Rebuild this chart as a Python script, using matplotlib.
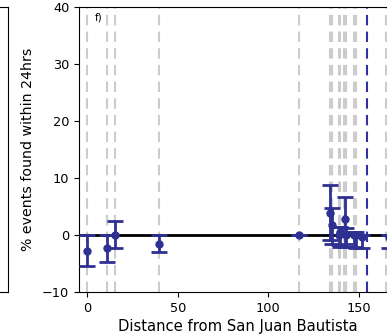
import matplotlib

matplotlib.use("Agg")
import matplotlib.pyplot as plt
import numpy as np

# event distances (km) and % found within 24 hrs, with asymmetric error bounds
dist = [0, 11, 15, 39.5, 117, 134.2, 135.3, 139, 140, 142.5, 143, 147.5, 148.6, 152, 166.8]
pct = [-2.8, -2.3, 0.0, -1.6, 0.0, 3.8, 1.7, 0.0, 0.5, 2.9, 0.0, 0.0, 0.0, -0.3, -0.3]
pct_lo = [-5.4, -4.8, -2.3, -3.0, 0.0, -0.8, -1.5, -1.8, -2.0, -1.5, -2.0, -2.0, -2.2, -2.2, -2.3]
pct_hi = [0.0, 0.0, 2.5, 0.0, 0.0, 8.8, 4.8, 1.5, 1.5, 6.7, 1.2, 0.5, 0.5, 0.0, 0.0]

# vertical markers
event_lines = [0, 11, 15, 39.5, 117, 134.2, 135.3, 139, 140, 142, 143, 147.5, 148.6, 165.2]
main_line = 154.5

xticks = [0, 50, 100, 150]
yticks = [-10, 0, 10, 20, 30, 40]

blue = "#2e3192"

fig = plt.figure(figsize=(3.87, 3.35), dpi=100)

# right edge of the neighbouring panel
left_ax = fig.add_axes([-0.5, 0.128, 0.5 + 7.5 / 387, 0.851])
left_ax.set_xticks([])
left_ax.set_yticks([])

ax = fig.add_axes([79 / 387, 0.128, 318 / 387, 0.851])
for x in event_lines:
    ax.axvline(x, color="#cccccc", lw=1.5, ls=(0, (5, 3)), zorder=1)
ax.axvline(main_line, color="#3030a0", lw=1.5, ls=(0, (5, 3)), zorder=1)
ax.axhline(0, color="k", lw=2, zorder=2)

y = np.array(pct)
yerr = np.vstack([y - np.array(pct_lo), np.array(pct_hi) - y])
ax.errorbar(dist, y, yerr=yerr, fmt="o", color=blue, ms=5, elinewidth=2,
            capsize=6, capthick=2, zorder=3)

ax.set_xlim(-4.7, 171.3)
ax.set_ylim(-10, 40)
ax.set_xticks(xticks)
ax.set_yticks(yticks)
ax.tick_params(labelsize=9.3)
ax.set_xlabel("Distance from San Juan Bautista", fontsize=10.6, labelpad=3)
ax.set_ylabel("% events found within 24hrs", fontsize=10.2, labelpad=5)
ax.text(0.05, 0.98, "f)", transform=ax.transAxes, fontsize=7.5, ha="left", va="top")

fig.savefig("out.png", dpi=100)
